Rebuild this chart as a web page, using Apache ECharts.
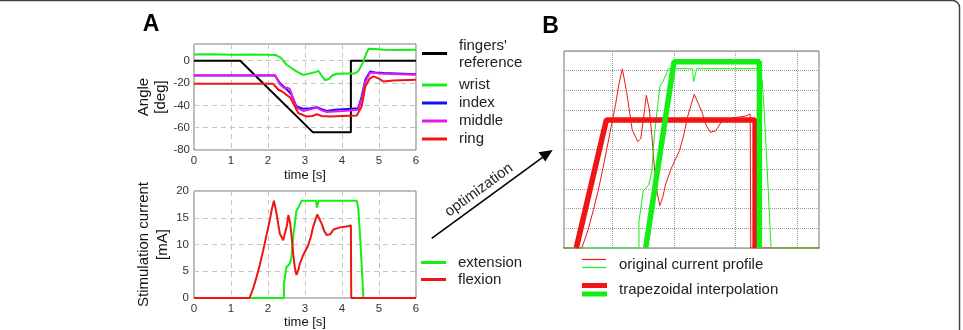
<!DOCTYPE html>
<html><head><meta charset="utf-8">
<script src="https://cdn.jsdelivr.net/npm/echarts@6/dist/echarts.min.js"></script>
<style>html,body{margin:0;padding:0;background:#fff}#c{width:963px;height:330px}</style>
</head><body><div id="c"></div>
<script>
// ---- Panel A (top): joint angles [deg] vs time [s]
const fingersRef = [[0,0],[1.25,0],[3.21,-64],[4.24,-64],[4.24,0],[6,0]];
const wrist = [[0,5.6],[0.5,5.9],[1,5.4],[1.5,5.7],[2,5.3],[2.2,5.2],[2.35,2.5],[2.5,-3.6],[2.65,-7],[2.77,-9.6],[2.95,-12.6],[3.05,-12],[3.18,-11],[3.3,-10],[3.36,-9],[3.45,-13.5],[3.55,-17.5],[3.6,-18],[3.66,-16],[3.72,-13.5],[3.86,-11.7],[4.1,-11.5],[4.35,-11.5],[4.45,-9],[4.58,-0.6],[4.65,6],[4.72,10.8],[4.9,10.5],[5.12,9.9],[5.5,9.7],[6,9.8]];
const index = [[0,-13.2],[2.19,-13.2],[2.32,-20],[2.5,-25.5],[2.64,-30.6],[2.72,-37],[2.77,-41],[2.95,-43],[3.15,-42.5],[3.32,-41.6],[3.45,-43.5],[3.59,-45],[3.8,-44],[4.04,-43.4],[4.44,-42.5],[4.53,-32],[4.63,-17],[4.76,-9.6],[4.9,-10.5],[5.12,-11],[6,-12]];
const middle = [[0,-13],[2.19,-13],[2.32,-21],[2.45,-25],[2.52,-24],[2.59,-25.5],[2.64,-30],[2.72,-38],[2.77,-42],[2.95,-45],[3.15,-43.5],[3.32,-42],[3.45,-44.5],[3.59,-46],[3.8,-45.5],[4.04,-45],[4.44,-44],[4.53,-34],[4.63,-19],[4.76,-10.5],[4.9,-11],[5.12,-11.7],[6,-12.6]];
const ring = [[0,-20.7],[2.14,-20.7],[2.28,-26],[2.4,-28],[2.5,-30.6],[2.6,-33],[2.68,-38],[2.82,-47],[3.04,-50],[3.2,-49.5],[3.32,-48],[3.45,-49.5],[3.68,-50],[4.0,-49.5],[4.4,-49],[4.53,-41],[4.63,-23],[4.75,-16],[4.85,-14],[5.0,-16],[5.12,-18.6],[5.39,-17.7],[6,-17]];

// ---- Panel A (bottom): stimulation current [mA] vs time [s]
const extension = [[0,0],[2.43,0],[2.43,2.7],[2.5,5.8],[2.59,6.4],[2.64,7.8],[2.68,11.4],[2.77,16.4],[2.82,16.9],[2.91,18.2],[3.3,18.2],[3.32,16.9],[3.35,16.9],[3.37,18.2],[4.4,18.2],[4.44,16.75],[4.49,11.4],[4.58,0],[6,0]];
const flexion = [[0,0],[1.5,0],[1.6,1.8],[1.69,3.9],[1.78,6.2],[1.87,8.9],[1.96,11.75],[2.05,14.6],[2.1,16.5],[2.16,18.2],[2.23,15.8],[2.32,12],[2.41,10.8],[2.46,11.1],[2.51,13.5],[2.55,15.5],[2.6,14],[2.64,11.4],[2.68,8.3],[2.73,5.5],[2.77,4.3],[2.82,5.2],[2.86,6.4],[2.95,8],[3.09,9.9],[3.16,11.5],[3.22,13.3],[3.33,15.6],[3.45,13.9],[3.52,12.5],[3.59,11.75],[3.68,11.9],[3.77,12.8],[3.95,13.2],[4.17,13.4],[4.24,13.6],[4.25,0],[6,0]];

// ---- Panel B: trapezoidal interpolation
const flexionTrap = [[1.41,0],[1.9,13],[4.32,13],[4.32,0]];
const extensionTrap = [[2.54,0],[3.0,18.9],[4.39,18.9],[4.39,0]];

// tick values
const angleTicks = [-80,-60,-40,-20,0];
const timeTicksB = [2,3,4,5];

const FONT = '"Liberation Sans", Arial, sans-serif';
const GREEN = '#14ee14', RED = '#f01414', BLUE = '#1010f0', MAG = '#ee14ee', BLACK = '#000';

const chart = echarts.init(document.getElementById('c'), null, {renderer:'canvas'});

const dashed = {show:true, lineStyle:{color:'#c4c4c4', type:[5,4], width:1}};
const lblStyle = {color:'#333', fontSize:11.5, fontFamily:FONT};

function line(name, data, color, width, x, y, z){
  return {name, type:'line', data, xAxisIndex:x, yAxisIndex:y, showSymbol:false, symbol:'none',
    lineStyle:{color, width}, itemStyle:{color}, z:z||2, animation:false};
}

chart.setOption({
  animation:false,
  textStyle:{fontFamily:FONT},
  grid:[
    {left:194, top:44, width:222, height:106, show:true, borderColor:'#777', borderWidth:1, containLabel:false},
    {left:194, top:191, width:222, height:107, show:true, borderColor:'#777', borderWidth:1, containLabel:false},
    {left:564, top:51, width:255, height:197, show:true, borderColor:'#777', borderWidth:1, containLabel:false}
  ],
  xAxis:[
    {type:'value', gridIndex:0, min:0, max:6, interval:1, axisLine:{show:false}, axisTick:{show:false},
     splitLine:dashed, axisLabel:Object.assign({margin:5}, lblStyle),
     name:'time [s]', nameLocation:'middle', nameGap:19, nameTextStyle:{color:'#111', fontSize:13, fontFamily:FONT}},
    {type:'value', gridIndex:1, min:0, max:6, interval:1, axisLine:{show:false}, axisTick:{show:false},
     splitLine:dashed, axisLabel:Object.assign({margin:5}, lblStyle),
     name:'time [s]', nameLocation:'middle', nameGap:18, nameTextStyle:{color:'#111', fontSize:13, fontFamily:FONT}},
    {type:'value', gridIndex:2, min:1.21, max:5.36, axisLine:{show:false},
     axisTick:{show:false, customValues:timeTicksB}, axisLabel:{show:false, customValues:timeTicksB},
     splitLine:{show:true, lineStyle:{color:'#999', type:'dotted', width:1}}}
  ],
  yAxis:[
    {type:'value', gridIndex:0, min:-80, max:15, interval:20, axisLine:{show:false}, axisTick:{show:false},
     splitLine:dashed,
     axisLabel:Object.assign({margin:4, formatter:v => angleTicks.indexOf(v) >= 0 ? String(v) : ''}, lblStyle),
     name:'Angle\n[deg]', nameLocation:'middle', nameGap:24, nameRotate:90,
     nameTextStyle:{color:'#111', fontSize:15, lineHeight:17, fontFamily:FONT}},
    {type:'value', gridIndex:1, min:0, max:20, interval:5, axisLine:{show:false}, axisTick:{show:false},
     splitLine:dashed, axisLabel:Object.assign({margin:5}, lblStyle),
     name:'Stimulation current\n[mA]', nameLocation:'middle', nameGap:22, nameRotate:90,
     nameTextStyle:{color:'#111', fontSize:15, lineHeight:19, fontFamily:FONT}},
    {type:'value', gridIndex:2, min:0, max:20, interval:2, axisLine:{show:false}, axisTick:{show:false},
     axisLabel:{show:false}, splitLine:{show:true, lineStyle:{color:'#999', type:'dotted', width:1}}}
  ],
  series:[
    line("fingers' reference", fingersRef, BLACK, 2, 0, 0, 2),
    line('wrist', wrist, GREEN, 2, 0, 0, 3),
    line('index', index, BLUE, 2, 0, 0, 4),
    line('middle', middle, MAG, 2, 0, 0, 5),
    line('ring', ring, RED, 2, 0, 0, 6),
    line('extension', extension, GREEN, 2, 1, 1, 3),
    line('flexion', flexion, RED, 2, 1, 1, 4),
    line('flexion original', flexion, RED, 1, 2, 2, 3),
    line('extension original', extension, GREEN, 1, 2, 2, 4),
    line('flexion trapezoid', flexionTrap, RED, 5.5, 2, 2, 5),
    line('extension trapezoid', extensionTrap, GREEN, 5.5, 2, 2, 6)
  ],
  graphic:[
    {type:'rect', shape:{x:-10, y:0.5, width:969.5, height:340, r:[0,7,0,0]}, style:{fill:'none', stroke:'#444', lineWidth:1.5}, silent:true},
    {type:'text', x:151, y:25, style:{text:'A', font:'bold 23px '+FONT, fill:'#000', align:'center', verticalAlign:'middle'}},
    {type:'text', x:550.5, y:27, style:{text:'B', font:'bold 23px '+FONT, fill:'#000', align:'center', verticalAlign:'middle'}},
    {type:'line', shape:{x1:422, y1:53.5, x2:447, y2:53.5}, style:{stroke:BLACK, lineWidth:3}},
    {type:'text', x:459, y:54.5, style:{text:"fingers'\nreference", font:'15px '+FONT, lineHeight:17, fill:'#222', verticalAlign:'middle'}},
    {type:'line', shape:{x1:422, y1:85, x2:447, y2:85}, style:{stroke:GREEN, lineWidth:3}},
    {type:'text', x:459, y:85, style:{text:'wrist', font:'15px '+FONT, fill:'#222', verticalAlign:'middle'}},
    {type:'line', shape:{x1:422, y1:103, x2:447, y2:103}, style:{stroke:BLUE, lineWidth:3}},
    {type:'text', x:459, y:103, style:{text:'index', font:'15px '+FONT, fill:'#222', verticalAlign:'middle'}},
    {type:'line', shape:{x1:422, y1:121, x2:447, y2:121}, style:{stroke:MAG, lineWidth:3}},
    {type:'text', x:459, y:121, style:{text:'middle', font:'15px '+FONT, fill:'#222', verticalAlign:'middle'}},
    {type:'line', shape:{x1:422, y1:139, x2:447, y2:139}, style:{stroke:RED, lineWidth:3}},
    {type:'text', x:459, y:139, style:{text:'ring', font:'15px '+FONT, fill:'#222', verticalAlign:'middle'}},
    {type:'line', shape:{x1:421, y1:262.5, x2:446, y2:262.5}, style:{stroke:GREEN, lineWidth:3}},
    {type:'text', x:458, y:262.5, style:{text:'extension', font:'15px '+FONT, fill:'#222', verticalAlign:'middle'}},
    {type:'line', shape:{x1:421, y1:279.5, x2:446, y2:279.5}, style:{stroke:RED, lineWidth:3}},
    {type:'text', x:458, y:279.5, style:{text:'flexion', font:'15px '+FONT, fill:'#222', verticalAlign:'middle'}},
    {type:'line', shape:{x1:431.7, y1:238.3, x2:545, y2:155.6}, style:{stroke:'#000', lineWidth:1.6}},
    {type:'polygon', shape:{points:[[552.7,150],[538.5,152.2],[545.3,161.5]]}, style:{fill:'#000'}},
    {type:'text', x:479, y:190, rotation:36.1*Math.PI/180, style:{text:'optimization', font:'15px '+FONT, fill:'#222', align:'center', verticalAlign:'middle'}},
    {type:'line', shape:{x1:582, y1:259.5, x2:606, y2:259.5}, style:{stroke:RED, lineWidth:1.2}},
    {type:'line', shape:{x1:582, y1:267.5, x2:606, y2:267.5}, style:{stroke:GREEN, lineWidth:1.2}},
    {type:'text', x:619, y:265, style:{text:'original current profile', font:'15px '+FONT, fill:'#222', verticalAlign:'middle'}},
    {type:'line', shape:{x1:582, y1:285.5, x2:607, y2:285.5}, style:{stroke:RED, lineWidth:5}},
    {type:'line', shape:{x1:582, y1:294, x2:607, y2:294}, style:{stroke:GREEN, lineWidth:5}},
    {type:'text', x:619, y:289.5, style:{text:'trapezoidal interpolation', font:'15px '+FONT, fill:'#222', verticalAlign:'middle'}}
  ]
});
</script>
</body></html>
